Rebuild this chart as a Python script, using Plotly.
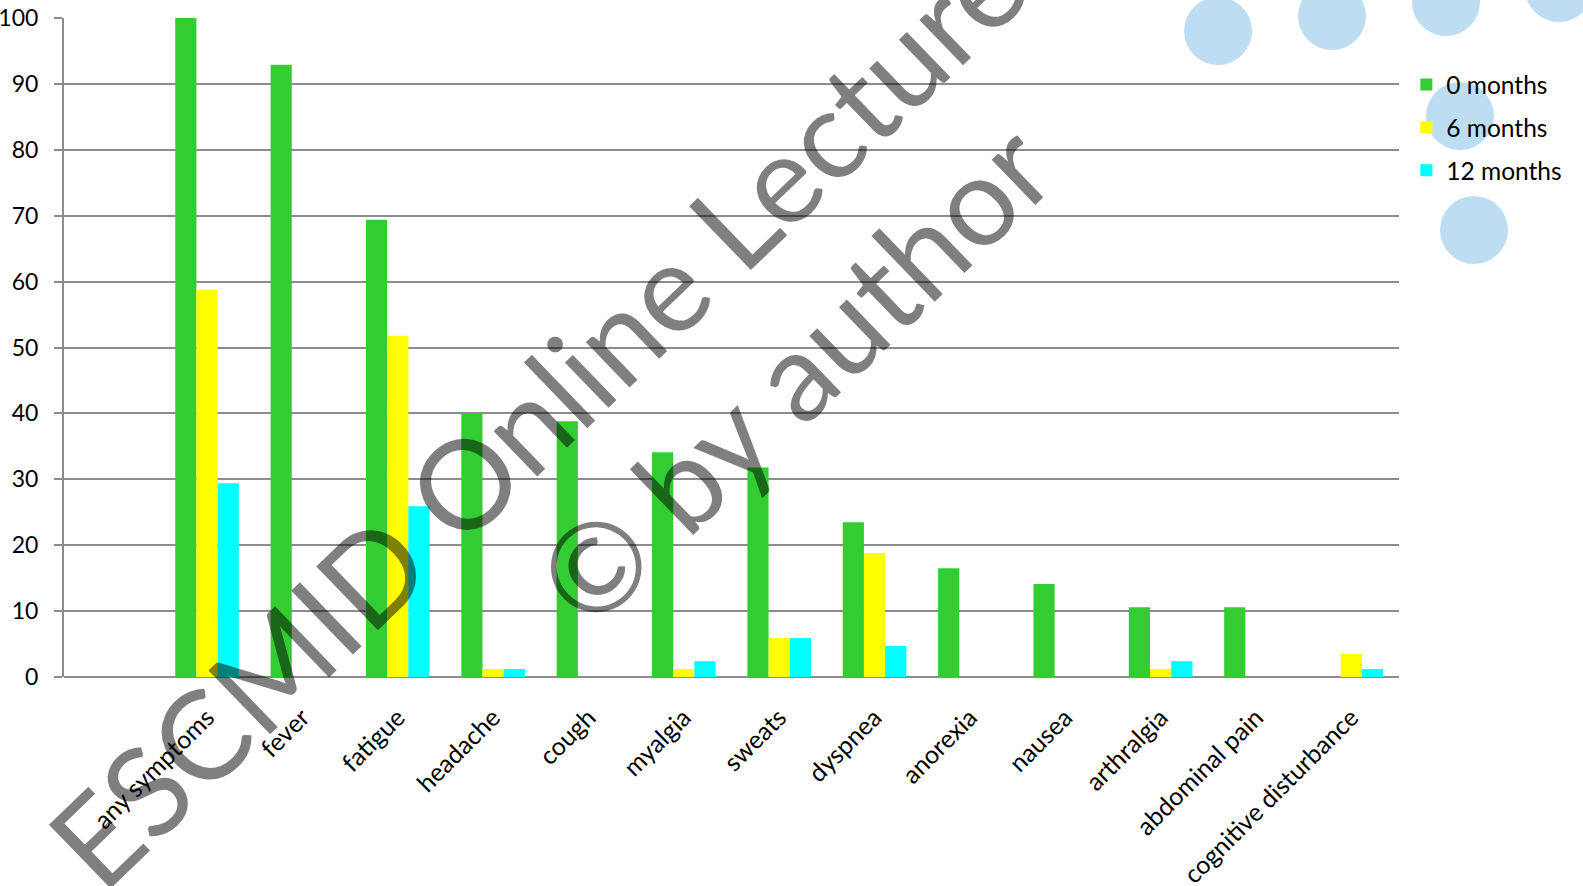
import plotly.graph_objects as go

categories = ["any symptoms", "fever", "fatigue", "headache", "cough", "myalgia", "sweats",
              "dyspnea", "anorexia", "nausea", "arthralgia", "abdominal pain", "cognitive disturbance"]
months_0 = [100, 92.9, 69.4, 40.0, 38.8, 34.1, 31.8, 23.5, 16.5, 14.1, 10.6, 10.6, 0]
months_6 = [58.8, 0, 51.8, 1.2, 0, 1.2, 5.9, 18.8, 0, 0, 1.2, 0, 3.5]
months_12 = [29.4, 0, 25.9, 1.2, 0, 2.4, 5.9, 4.7, 0, 0, 2.4, 0, 1.2]
series_names = ["0 months", "6 months", "12 months"]
colors = ["#33CC33", "#FFFF00", "#00FFFF"]
y_ticks = [0, 10, 20, 30, 40, 50, 60, 70, 80, 90, 100]

# first slot on the axis is an empty category
xpos = list(range(1, len(categories) + 1))

W, H = 1583, 886
L, R, T, B = 64, 184, 18, 209
pw, ph = W - L - R, H - T - B


def px_to_paper(px, py):
    return (px - L) / pw, (H - B - py) / ph


fig = go.Figure()
for i, (name, vals) in enumerate(zip(series_names, [months_0, months_6, months_12])):
    fig.add_trace(go.Bar(x=xpos, y=vals, name=name, marker_color=colors[i],
                         marker_line_width=0, legendgroup=name))

# decorative light-blue circles (top right)
circles = [(1218, 31), (1332, 16), (1446, 2), (1559, -12), (1460, 116), (1474, 230)]
r = 34
for cx, cy in circles:
    x0, y0 = px_to_paper(cx - r, cy + r)
    x1, y1 = px_to_paper(cx + r, cy - r)
    fig.add_shape(type="circle", xref="paper", yref="paper", x0=x0, y0=y0, x1=x1, y1=y1,
                  fillcolor="#BDDEF2", line_width=0, layer="below")

# watermark
wm_font = dict(family="Lato", size=124, color="rgba(0,0,0,0.5)")
ax1, ay1 = px_to_paper(682, 270)
ax2, ay2 = px_to_paper(792, 373)
fig.add_annotation(text="ESCMID Online Lecture Library", x=ax1, y=ay1, xref="paper", yref="paper",
                   showarrow=False, textangle=-44, font=wm_font, xanchor="center", yanchor="middle")
fig.add_annotation(text="© by author", x=ax2, y=ay2, xref="paper", yref="paper",
                   showarrow=False, textangle=-44, font=wm_font, xanchor="center", yanchor="middle")

fig.update_layout(
    width=W, height=H,
    margin=dict(l=L, r=R, t=T, b=B, pad=0, autoexpand=False),
    paper_bgcolor="white", plot_bgcolor="rgba(0,0,0,0)",
    barmode="group", bargap=0.333, bargroupgap=0,
    font=dict(family="Lato", color="black"),
    legend=dict(x=1.0055, y=px_to_paper(0, 62)[1], xanchor="left", yanchor="top",
                font=dict(size=24.5), bgcolor="rgba(0,0,0,0)", tracegroupgap=8,
                itemwidth=30),
    showlegend=True,
)
fig.update_xaxes(range=[-0.5, len(categories) + 0.5], tickmode="array", tickvals=xpos,
                 ticktext=categories, tickangle=-45, tickfont=dict(size=25),
                 showgrid=False, zeroline=False, showline=False, ticks="",
                 automargin=False, ticklabelstandoff=20)
fig.update_yaxes(range=[0, 100], tickmode="array", tickvals=y_ticks,
                 tickfont=dict(size=23), showgrid=True, gridcolor="#8C8C8C", gridwidth=2,
                 zeroline=True, zerolinecolor="#8C8C8C", zerolinewidth=2,
                 showline=True, linecolor="#8C8C8C", linewidth=2,
                 ticks="outside", ticklen=8, tickcolor="#8C8C8C", tickwidth=2,
                 ticklabelstandoff=11, automargin=False)

fig.write_html("out.html")
